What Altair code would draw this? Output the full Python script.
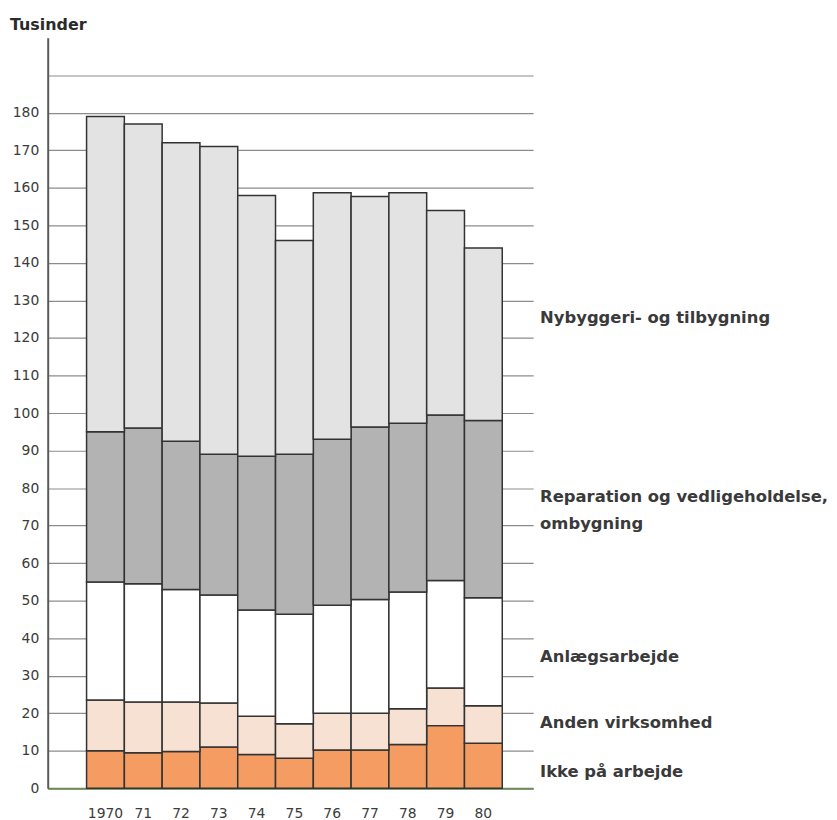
import altair as alt
import pandas as pd

years = ["1970", "71", "72", "73", "74", "75", "76", "77", "78", "79", "80"]
categories = [
    "Ikke på arbejde",
    "Anden virksomhed",
    "Anlægsarbejde",
    "Reparation og vedligeholdelse, ombygning",
    "Nybyggeri- og tilbygning",
]
ikke = [10.0, 9.5, 9.8, 11.0, 9.0, 8.0, 10.2, 10.2, 11.7, 16.7, 12.0]
anden = [13.5, 13.5, 13.2, 11.7, 10.2, 9.2, 9.8, 9.8, 9.5, 10.0, 10.0]
anlaeg = [31.5, 31.5, 30.0, 28.8, 28.3, 29.2, 28.8, 30.3, 31.1, 28.7, 28.8]
reparation = [40.0, 41.5, 39.5, 37.5, 41.0, 42.6, 44.2, 46.0, 45.0, 44.1, 47.2]
nybyggeri = [84.0, 81.0, 79.5, 82.0, 69.5, 57.0, 65.7, 61.4, 61.4, 54.5, 46.0]
colors = ["#f59c62", "#f7e1d3", "#ffffff", "#b3b3b3", "#e3e3e3"]
y_ticks = [0, 10, 20, 30, 40, 50, 60, 70, 80, 90, 100, 110, 120, 130, 140, 150, 160, 170, 180, 190]

label_texts = [
    "Nybyggeri- og tilbygning",
    "Reparation og vedligeholdelse,",
    "ombygning",
    "Anlægsarbejde",
    "Anden virksomhed",
    "Ikke på arbejde",
]
label_y = [124.0, 76.2, 69.0, 33.7, 16.1, 2.9]

series = [ikke, anden, anlaeg, reparation, nybyggeri]
rows = []
for ci, (cat, vals) in enumerate(zip(categories, series)):
    for yr, v in zip(years, vals):
        rows.append({"year": yr, "cat": cat, "value": v, "order": ci})
df = pd.DataFrame(rows)
labels_df = pd.DataFrame({"text": label_texts, "ly": label_y})

font = "DejaVu Sans"

y_scale = alt.Scale(domain=[0, 200], nice=False)
y_axis = alt.Axis(
    title=None,
    values=y_ticks,
    labelExpr="datum.value == 190 ? '' : datum.label",
    labelOverlap=False,
    ticks=False,
    labelPadding=9,
    labelFont=font,
    labelFontSize=14,
    labelColor="#3c3c3c",
    domainColor="#5a5a5a",
    domainWidth=2,
    grid=True,
    gridColor="#8c8c8c",
    gridWidth=1.2,
)

bars = alt.Chart(df).mark_bar(stroke="#333333", strokeWidth=1.5).encode(
    x=alt.X(
        "year:N",
        sort=years,
        scale=alt.Scale(paddingInner=0, paddingOuter=0.923, align=0.557),
        axis=alt.Axis(
            title=None,
            labelAngle=0,
            ticks=False,
            labelPadding=18,
            labelFont=font,
            labelFontSize=14,
            labelColor="#3c3c3c",
            domainColor="#6e8b57",
            domainWidth=2,
            grid=False,
        ),
    ),
    y=alt.Y("value:Q", stack="zero", scale=y_scale, axis=y_axis),
    color=alt.Color("cat:N", scale=alt.Scale(domain=categories, range=colors), legend=None),
    order=alt.Order("order:Q"),
)

labels = alt.Chart(labels_df).mark_text(
    align="left", baseline="alphabetic", font=font, fontSize=16.5,
    fontWeight="bold", color="#3a3a3a",
).encode(
    x=alt.value(496),
    y=alt.Y("ly:Q", scale=y_scale, axis=y_axis),
    text="text:N",
)

title = alt.Chart(pd.DataFrame({"t": ["Tusinder"]})).mark_text(
    align="left", baseline="alphabetic", font=font, fontSize=16,
    fontWeight="bold", color="#2a2a2a",
).encode(
    x=alt.value(-38),
    y=alt.value(-8),
    text="t:N",
)

chart = alt.layer(bars, labels, title).properties(
    width=489,
    height=756,
    padding={"left": 40, "top": 27, "right": 298, "bottom": 36},
    autosize=alt.AutoSizeParams(type="none"),
    background="#ffffff",
).configure_view(stroke=None)

chart.save("out.html", embed_options={"renderer": "svg", "actions": False})
